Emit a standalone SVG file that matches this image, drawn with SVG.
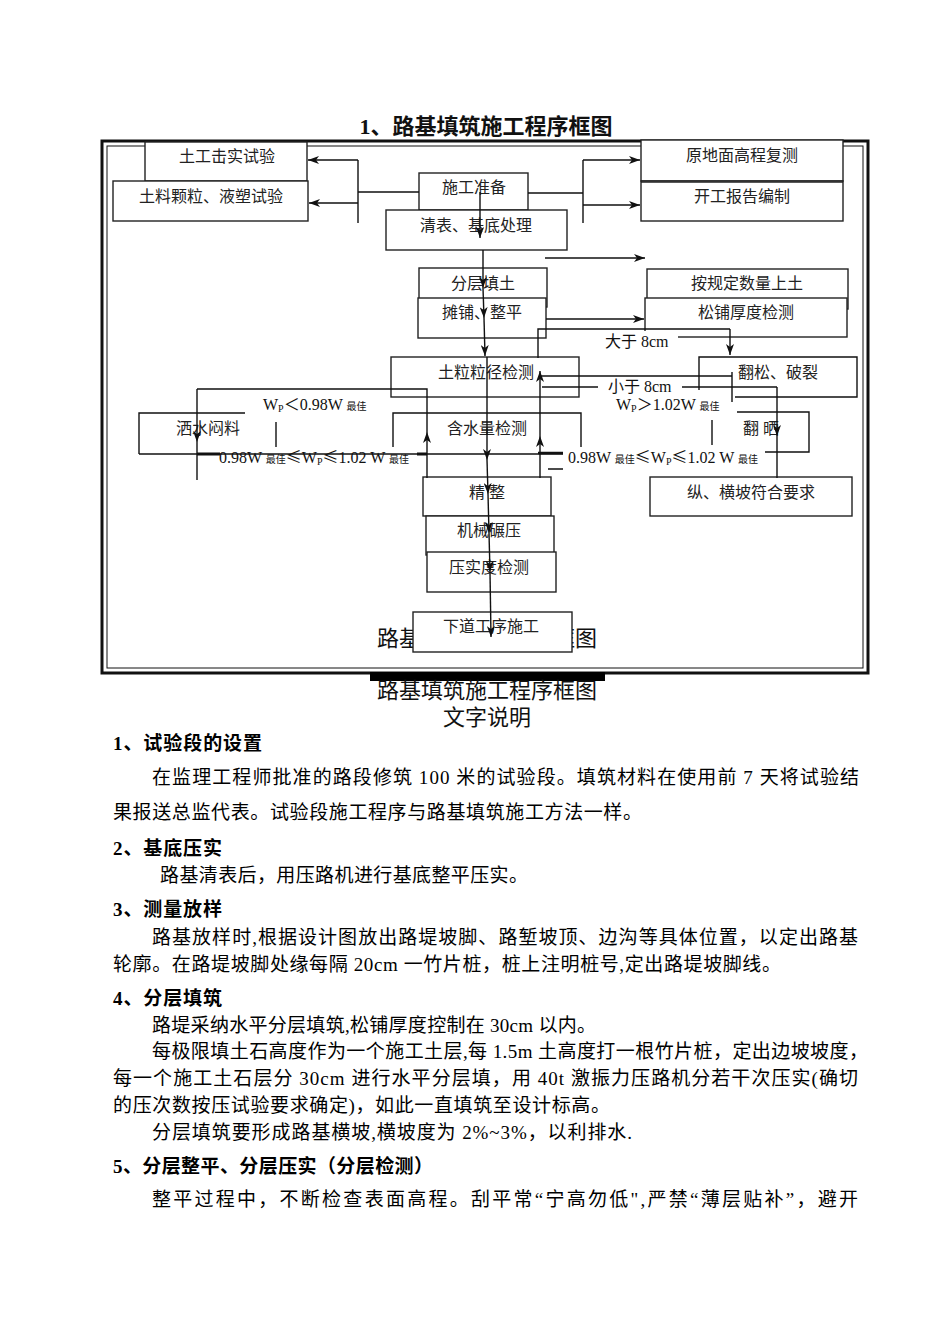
<svg xmlns="http://www.w3.org/2000/svg" width="950" height="1344" viewBox="0 0 950 1344">
<defs>
<style>
.bx{fill:#fff;stroke:#222;stroke-width:1.4}
.ln{fill:none;stroke:#111;stroke-width:1.4}
.tk{fill:none;stroke:#111;stroke-width:3}
.a{marker-end:url(#ah)}
.nt{font-family:"Liberation Serif","Noto Sans CJK SC",serif;font-size:16px;fill:#222;text-anchor:middle}
.lb{font-family:"Liberation Serif","Noto Sans CJK SC",serif;font-size:16px;fill:#111}
.sub{font-size:10px}
.le{font-family:"Noto Sans CJK SC",sans-serif}
.body{font-family:"Liberation Serif","Noto Sans CJK SC",serif;font-size:19px;fill:#000}
.hd{font-weight:bold}
.cap{font-family:"Liberation Serif","Noto Sans CJK SC",serif;font-size:22px;fill:#111;text-anchor:middle}
</style>
<marker id="ah" markerUnits="userSpaceOnUse" markerWidth="12" markerHeight="8" refX="11" refY="4" orient="auto"><path d="M0,0 L11,4 L0,8 L3,4 Z" fill="#111"/></marker>
</defs>
<rect width="950" height="1344" fill="#fff"/>

<text x="486" y="134" class="cap" style="font-weight:bold;font-size:22px">1、路基填筑施工程序框图</text>

<g id="frame">
<rect x="102" y="141" width="766" height="532" fill="none" stroke="#111" stroke-width="3"/>
<rect x="107" y="146" width="756" height="522" fill="none" stroke="#111" stroke-width="1"/>
<rect x="370" y="672" width="235" height="9" fill="#000"/>
</g>

<text x="487" y="646" class="cap">路基填筑施工程序框图</text>

<g id="n1"><rect class="bx" x="145" y="142" width="162" height="39"/><text class="nt" x="227" y="162">土工击实试验</text></g>
<g id="n2"><rect class="bx" x="113" y="181" width="195" height="40"/><text class="nt" x="211" y="202">土料颗粒、液塑试验</text></g>
<g id="n3"><rect class="bx" x="419" y="173" width="109" height="37"/><text class="nt" x="474" y="193">施工准备</text></g>
<g id="n4"><rect class="bx" x="386" y="210" width="181" height="40"/><text class="nt" x="476" y="231">清表、基底处理</text></g>
<g id="n5"><rect class="bx" x="641" y="140" width="202" height="41"/><text class="nt" x="742" y="161">原地面高程复测</text></g>
<g id="n6"><rect class="bx" x="641" y="181" width="202" height="40"/><line x1="641" y1="182" x2="843" y2="182" stroke="#222" stroke-width="1.4"/><text class="nt" x="742" y="202">开工报告编制</text></g>
<g id="n7"><rect class="bx" x="419" y="268" width="128" height="39"/><text class="nt" x="483" y="289">分层填土</text></g>
<g id="n8"><rect class="bx" x="418" y="298" width="128" height="40"/><text class="nt" x="482" y="318">摊铺、整平</text></g>
<g id="n9"><rect class="bx" x="647" y="269" width="201" height="40"/><text class="nt" x="747" y="289">按规定数量上土</text></g>
<g id="n10"><rect class="bx" x="645" y="298" width="202" height="39"/><text class="nt" x="746" y="318">松铺厚度检测</text></g>
<g id="n11"><rect class="bx" x="391" y="357" width="188" height="40"/><text class="nt" x="486" y="378">土粒粒径检测</text></g>
<g id="n12"><path class="ln" d="M699,390 L699,357 L857,357 L857,397 L735,397"/><text class="nt" x="778" y="378">翻松、破裂</text></g>
<g id="n13"><path class="ln" d="M245,413 L139,413 L139,454"/><text class="nt" x="208" y="434">洒水闷料</text></g>
<g id="n14"><path class="ln" d="M393,447 L393,413 L581,413 L581,447"/><text class="nt" x="487" y="434">含水量检测</text></g>
<g id="n15"><path class="ln" d="M737,412 L809,412 L809,452 L765,452"/><text class="nt" x="761" y="434">翻 晒</text></g>
<g id="n16"><rect class="bx" x="423" y="477" width="128" height="39"/><text class="nt" x="487" y="498">精 整</text></g>
<g id="n17"><rect class="bx" x="426" y="516" width="128" height="39"/><text class="nt" x="489" y="536">机械碾压</text></g>
<g id="n18"><rect class="bx" x="427" y="552" width="129" height="40"/><text class="nt" x="489" y="573">压实度检测</text></g>
<g id="n19"><rect class="bx" x="650" y="477" width="202" height="39"/><text class="nt" x="751" y="498">纵、横坡符合要求</text></g>
<g id="n20"><rect class="bx" x="413" y="612" width="159" height="40"/><text class="nt" x="491" y="632">下道工序施工</text></g>

<g id="connectors">
<path class="ln" d="M419,192 L358,192 M358,160 L358,223 M528,193 L583,193 M583,160 L583,223"/>
<path class="ln a" d="M358,160 L308,160"/>
<path class="ln a" d="M358,203 L309,203"/>
<path class="ln a" d="M583,160 L640,160"/>
<path class="ln a" d="M583,205 L640,205"/>
<path class="ln a" d="M545,258 L645,258"/>
<path class="ln a" d="M546,319 L644,319"/>
<path class="ln a" d="M480,192 L480,238"/>
<path class="ln a" d="M483,250 L483,288"/>
<path class="ln a" d="M483,288 L484,318"/>
<path class="ln a" d="M484,318 L485,356"/>
<path class="ln a" d="M487,357 L487,460"/>
<path class="ln a" d="M487,460 L488,494"/>
<path class="ln a" d="M488,494 L489,533"/>
<path class="ln a" d="M489,533 L490,572"/>
<path class="ln a" d="M490,572 L491,637"/>
<path class="ln" d="M538,358 L538,329 L730,329"/>
<path class="ln a" d="M730,329 L730,355"/>
<path class="ln a" d="M540,478 L540,436"/>
<path class="ln a" d="M540,436 L540,371"/>
<path class="ln" d="M541,376 L732,376 M732,372 L732,402"/>
<path class="ln" d="M542,387 L777,387"/>
<path class="ln a" d="M777,387 L777,436"/>
<path class="ln" d="M777,436 L777,478"/>
<path class="ln a" d="M427,478 L427,432"/>
<path class="ln" d="M427,432 L427,389 L197,389"/>
<path class="ln a" d="M197,389 L197,442"/>
<path class="ln" d="M197,442 L197,480"/>
<path class="ln" d="M139,454 L563,454"/>
<path class="tk" d="M197,454 L220,454 M417,454 L427,454"/>
<path class="ln" d="M538,453 L563,453" style="stroke-width:2.5"/>
<path class="ln" d="M548,469 L563,469 M276,422 L276,447 M712,420 L712,445"/>
</g>

<g id="labels">
<text class="lb" x="263" y="410">W<tspan class="sub" dy="2">P</tspan><tspan dy="-2">＜0.98W </tspan><tspan class="sub">最佳</tspan></text>
<text class="lb" x="219" y="463">0.98W <tspan class="sub">最佳</tspan><tspan class="le">≤</tspan>W<tspan class="sub" dy="2">P</tspan><tspan dy="-2" class="le">≤</tspan>1.02 W <tspan class="sub">最佳</tspan></text>
<text class="lb" x="568" y="463">0.98W <tspan class="sub">最佳</tspan><tspan class="le">≤</tspan>W<tspan class="sub" dy="2">P</tspan><tspan dy="-2" class="le">≤</tspan>1.02 W <tspan class="sub">最佳</tspan></text>
<text class="lb" x="616" y="410">W<tspan class="sub" dy="2">P</tspan><tspan dy="-2">＞1.02W </tspan><tspan class="sub">最佳</tspan></text>
<rect x="600" y="331" width="78" height="20" fill="#fff"/>
<text class="lb" x="605" y="347">大于 8cm</text>
<rect x="598" y="379" width="84" height="18" fill="#fff"/>
<text class="lb" x="608" y="392">小于 8cm</text>
</g>

<text x="487" y="698" class="cap">路基填筑施工程序框图</text>
<text x="487" y="725" class="cap">文字说明</text>

<g id="body">
<text class="body hd" x="113" y="750" textLength="149">1、试验段的设置</text>
<text class="body" x="152" y="784" textLength="707">在监理工程师批准的路段修筑 100 米的试验段。填筑材料在使用前 7 天将试验结</text>
<text class="body" x="113" y="819" textLength="529">果报送总监代表。试验段施工程序与路基填筑施工方法一样。</text>
<text class="body hd" x="113" y="855" textLength="109">2、基底压实</text>
<text class="body" x="160" y="882" textLength="368">路基清表后，用压路机进行基底整平压实。</text>
<text class="body hd" x="113" y="916" textLength="109">3、测量放样</text>
<text class="body" x="152" y="944" textLength="706">路基放样时,根据设计图放出路堤坡脚、路堑坡顶、边沟等具体位置，以定出路基</text>
<text class="body" x="113" y="971" textLength="668">轮廓。在路堤坡脚处缘每隔 20cm 一竹片桩，桩上注明桩号,定出路堤坡脚线。</text>
<text class="body hd" x="113" y="1005" textLength="109">4、分层填筑</text>
<text class="body" x="152" y="1032" textLength="444">路堤采纳水平分层填筑,松铺厚度控制在 30cm 以内。</text>
<text class="body" x="152" y="1058" textLength="716">每极限填土石高度作为一个施工土层,每 1.5m 土高度打一根竹片桩，定出边坡坡度，</text>
<text class="body" x="113" y="1085" textLength="745">每一个施工土石层分 30cm 进行水平分层填，用 40t 激振力压路机分若干次压实(确切</text>
<text class="body" x="113" y="1112" textLength="497">的压次数按压试验要求确定)，如此一直填筑至设计标高。</text>
<text class="body" x="152" y="1139" textLength="480">分层填筑要形成路基横坡,横坡度为 2%~3%，以利排水.</text>
<text class="body hd" x="113" y="1173" textLength="320">5、分层整平、分层压实（分层检测）</text>
<text class="body" x="152" y="1206" textLength="706">整平过程中，不断检查表面高程。刮平常“宁高勿低",严禁“薄层贴补”，避开</text>
</g>
</svg>
